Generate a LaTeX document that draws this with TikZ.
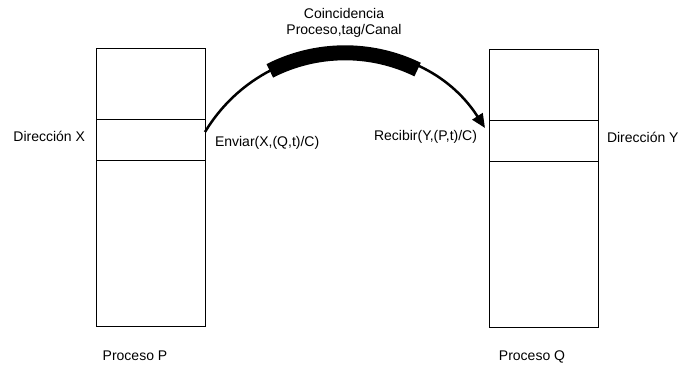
\documentclass[tikz,border=0pt]{standalone}
\usepackage{fontspec}
\setmainfont{Liberation Sans}
\usetikzlibrary{positioning,arrows.meta}
\begin{document}
\begin{tikzpicture}[x=1pt,y=1pt,
   every node/.style={font=\fontsize{14}{16}\selectfont, inner sep=0pt, outer sep=0pt},
   memcell/.style={draw, line width=1pt, minimum width=109pt},
   memslot/.style={memcell, minimum height=41pt},
   memtop/.style={memcell, minimum height=71pt},
   membot/.style={memcell, minimum height=166pt},
   msgarrow/.style={line width=2.5pt, -{Triangle[length=14pt,width=12pt]}},
   tagband/.style={line width=15pt}]

\useasboundingbox (0,0) rectangle (681,369);

% proceso P
\node[memslot] (pslot) at (150.5,228.5) {};
\node[memtop, above=0pt of pslot] (ptop) {};
\node[membot, below=0pt of pslot] (pbot) {};
\node[left=11pt of pslot, yshift=4.5pt] (dirx) {Dirección X};
\node[below=24pt of pbot, xshift=-15.5pt] (procp) {Proceso P};

% proceso Q
\node[memslot] (qslot) at (544,227.5) {};
\node[memtop, above=0pt of qslot] (qtop) {};
\node[membot, below=0pt of qslot] (qbot) {};
\node[right=8.5pt of qslot, yshift=4.5pt] (diry) {Dirección Y};
\node[below=23pt of qbot, xshift=-12pt] (procq) {Proceso Q};

% mensaje
\node[right=10pt of pslot, yshift=-2.5pt] (enviar) {Enviar(X,(Q,t)/C)};
\node[left=12.5pt of qslot, yshift=4.5pt] (recibir) {Recibir(Y,(P,t)/C)};
\node[align=center] (coinc) at (344,346) {Coincidencia\\Proceso,tag/Canal};

\coordinate (send) at ([yshift=-12pt]pslot.north east);
\coordinate (recv) at ([xshift=-4.5pt,yshift=-7pt]qslot.north west);
\draw[msgarrow] (send) to[bend left=58, looseness=1.11] (recv);

\coordinate (arcc) at (345,150.6);
\draw[tagband] (arcc) ++(117:165.6) arc[start angle=117, end angle=64, radius=165.6];

\end{tikzpicture}
\end{document}
